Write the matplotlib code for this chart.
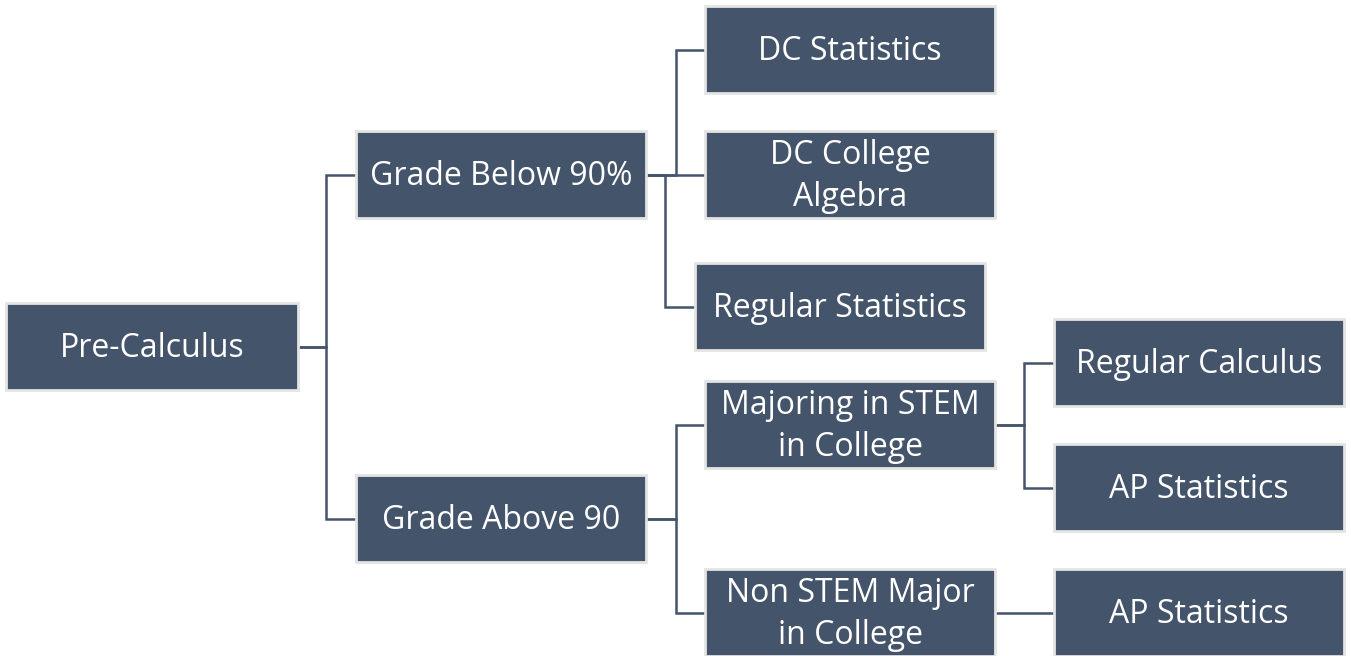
import matplotlib
matplotlib.use("Agg")
import matplotlib.pyplot as plt
from matplotlib.patches import Rectangle

# ---- data: tree nodes and edges ----
node_ids = ["pre", "below", "above", "dcstat", "dcalg", "regstat", "stem", "nonstem", "regcalc", "apstat1", "apstat2"]
node_labels = ["Pre-Calculus", "Grade Below 90%", "Grade Above 90", "DC Statistics",
               "DC College\nAlgebra", "Regular Statistics", "Majoring in STEM\nin College",
               "Non STEM Major\nin College", "Regular Calculus", "AP Statistics", "AP Statistics"]
parents = [None, "pre", "pre", "below", "below", "below", "above", "above", "stem", "stem", "nonstem"]

# ---- layout (pixels, y downward): left, top, width, height ----
layout = {
    "pre": (6, 303, 292, 87),
    "below": (356, 131, 290, 87),
    "above": (356, 475, 290, 87),
    "dcstat": (705, 6, 290, 87),
    "dcalg": (705, 131, 290, 87),
    "regstat": (695, 263, 290, 87),
    "stem": (705, 381, 290, 87),
    "nonstem": (705, 569, 290, 87),
    "regcalc": (1054, 319, 290, 87),
    "apstat1": (1054, 444, 290, 87),
    "apstat2": (1054, 569, 290, 87),
}
# x of the vertical connector bus for each child
bus_x = {"below": 326, "above": 326, "dcstat": 676, "dcalg": 676, "regstat": 665,
         "stem": 676, "nonstem": 676, "regcalc": 1024, "apstat1": 1024, "apstat2": 1024}

W, H = 1351, 656
BOX = "#44546A"
EDGE = "#E4E4E4"
LINE = "#44546A"

fig = plt.figure(figsize=(W / 100, H / 100), dpi=100)
ax = fig.add_axes([0, 0, 1, 1])
ax.set_xlim(0, W)
ax.set_ylim(H, 0)
ax.axis("off")

def center_y(n):
    l, t, w, h = layout[n]
    return t + h / 2

# connectors
for nid, par in zip(node_ids, parents):
    if par is None:
        continue
    pl, pt, pw, ph = layout[par]
    cl, ct, cw, ch = layout[nid]
    py, cy = center_y(par), center_y(nid)
    bx = bus_x[nid]
    ax.plot([pl + pw, bx, bx, cl], [py, py, cy, cy], color=LINE, lw=1.8,
            solid_joinstyle="miter", solid_capstyle="butt", zorder=1)

# boxes
for nid, lab in zip(node_ids, node_labels):
    l, t, w, h = layout[nid]
    ax.add_patch(Rectangle((l, t), w, h, facecolor=BOX, edgecolor=EDGE, lw=2, zorder=2))
    ax.text(l + w / 2, t + h / 2 + 2, lab, ha="center", va="center", color="white",
            fontsize=23, family="Open Sans", linespacing=1.35, zorder=3)

fig.savefig("out.png", dpi=100)
